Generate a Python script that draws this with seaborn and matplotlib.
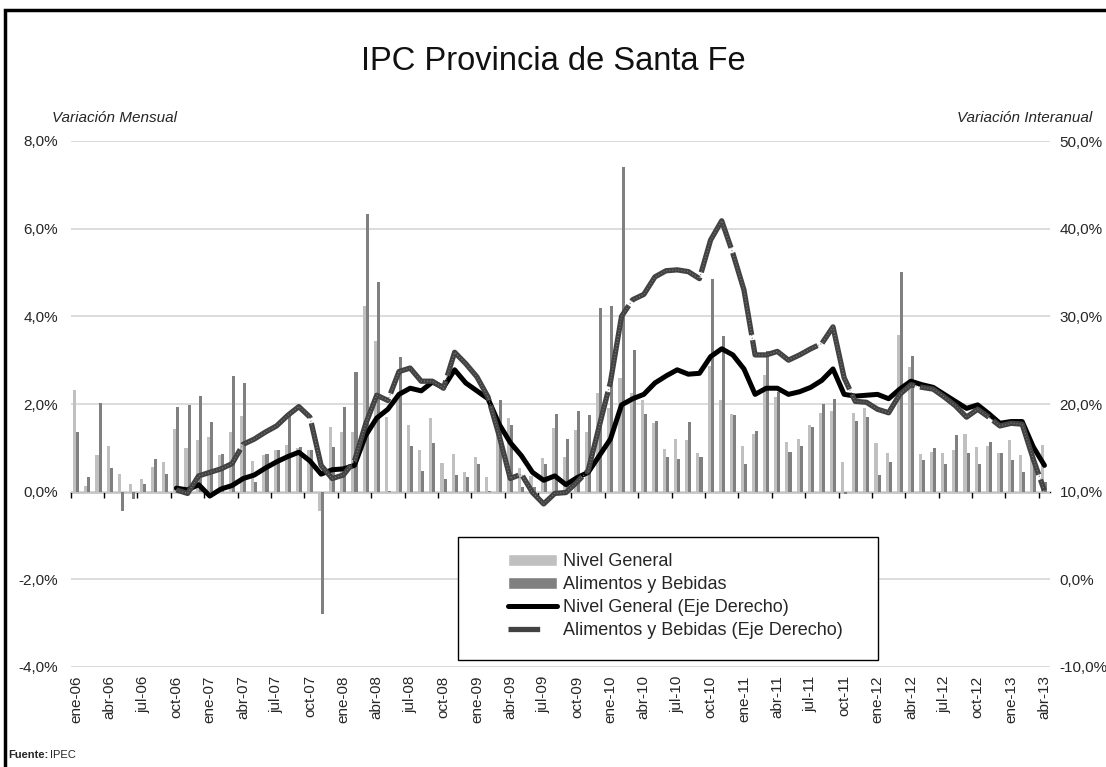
import numpy as np
import pandas as pd
import seaborn as sns
import matplotlib.pyplot as plt
from matplotlib.ticker import FuncFormatter
from matplotlib.patches import Patch, Rectangle
from matplotlib.lines import Line2D

# variacion mensual (%), ene-06 .. abr-13
nivel_general = [
    2.33, 0.14, 0.84, 1.05, 0.41, 0.18, 0.30, 0.57, 0.68, 1.44, 1.00, 1.19,
    1.25, 0.84, 1.37, 1.73, 0.71, 0.84, 0.96, 1.07, 1.00, 0.96, -0.43, 1.48,
    1.35, 1.35, 4.24, 3.44, 1.71, 2.20, 1.51, 0.96, 1.69, 0.66, 0.87, 0.46,
    0.78, 0.33, 1.60, 1.67, 0.55, 0.35, 0.76, 1.46, 0.80, 1.41, 1.37, 2.24,
    1.90, 2.60, 2.26, 2.10, 1.57, 0.98, 1.21, 1.19, 0.89, 2.87, 2.08, 1.78,
    1.05, 1.32, 2.67, 2.17, 1.14, 1.21, 1.53, 1.80, 1.85, 0.68, 1.80, 1.92,
    1.12, 0.89, 3.58, 2.85, 0.87, 0.91, 0.89, 0.94, 1.32, 1.03, 1.05, 0.89,
    1.19, 0.84, 1.10, 1.06]
alimentos = [
    1.35, 0.34, 2.03, 0.55, -0.45, -0.17, 0.18, 0.75, 0.41, 1.94, 1.98, 2.19,
    1.60, 0.87, 2.65, 2.49, 0.21, 0.85, 0.95, 1.73, 1.03, 0.94, -2.78, 1.03,
    1.94, 2.74, 6.34, 4.79, 0.02, 3.08, 1.05, 0.48, 1.10, 0.28, 0.37, 0.34,
    0.64, 0.02, 2.08, 1.51, 0.10, 0.11, 0.62, 1.78, 1.21, 1.83, 1.76, 4.20,
    4.24, 7.41, 3.24, 1.78, 1.62, 0.80, 0.75, 1.60, 0.78, 4.86, 3.56, 1.76,
    0.64, 1.39, 3.22, 2.28, 0.91, 1.05, 1.48, 2.01, 2.12, -0.05, 1.62, 1.71,
    0.37, 0.68, 5.02, 3.10, 0.73, 1.00, 0.62, 1.30, 0.89, 0.62, 1.14, 0.89,
    0.73, 0.46, 0.70, 0.22]

# variacion interanual (%), desde oct-06
inicio_interanual = 9
ng_interanual = [
    10.4, 10.2, 10.8,
    9.5, 10.3, 10.7, 11.5, 11.9, 12.7, 13.4, 14.0, 14.5, 13.5, 12.0, 12.5,
    12.6, 13.0, 16.4, 18.4, 19.4, 21.1, 21.8, 21.5, 22.5, 21.9, 23.9, 22.4,
    21.5, 20.6, 17.7, 15.6, 14.1, 12.2, 11.3, 11.8, 10.8, 11.6, 12.2, 14.1,
    16.0, 19.9, 20.6, 21.1, 22.4, 23.2, 23.9, 23.4, 23.5, 25.4, 26.3, 25.6,
    24.0, 21.1, 21.8, 21.8, 21.1, 21.4, 21.9, 22.7, 24.0, 21.1, 20.9, 21.0,
    21.1, 20.6, 21.7, 22.6, 22.2, 21.9, 21.1, 20.3, 19.5, 19.9, 18.9, 17.8,
    18.0, 18.0, 15.1, 13.0]
al_interanual = [
    10.2, 9.8, 11.8,
    12.2, 12.6, 13.2, 15.4, 16.0, 16.8, 17.5, 18.7, 19.7, 18.5, 13.0, 11.5,
    11.9, 13.5, 17.7, 21.0, 20.4, 23.7, 24.1, 22.6, 22.6, 21.8, 25.9, 24.6,
    23.1, 20.8, 16.4, 11.5, 12.0, 9.9, 8.6, 9.8, 9.9, 11.1, 12.4, 17.5,
    22.5, 30.0, 31.9, 32.5, 34.5, 35.2, 35.3, 35.1, 34.3, 38.7, 40.9, 37.2,
    33.0, 25.6, 25.6, 26.0, 25.0, 25.6, 26.3, 26.9, 28.8, 23.0, 20.3, 20.2,
    19.4, 19.0, 21.1, 22.2, 21.9, 21.7, 20.8, 19.8, 18.5, 19.4, 18.5, 17.5,
    17.8, 17.7, 13.7, 10.1]

etiquetas = ['ene-06', 'abr-06', 'jul-06', 'oct-06', 'ene-07', 'abr-07', 'jul-07', 'oct-07',
             'ene-08', 'abr-08', 'jul-08', 'oct-08', 'ene-09', 'abr-09', 'jul-09', 'oct-09',
             'ene-10', 'abr-10', 'jul-10', 'oct-10', 'ene-11', 'abr-11', 'jul-11', 'oct-11',
             'ene-12', 'abr-12', 'jul-12', 'oct-12', 'ene-13', 'abr-13']

sns.set_style('white')
plt.rcParams['font.family'] = ['Liberation Sans', 'DejaVu Sans']

n = len(nivel_general)
barras = pd.DataFrame({'mes': range(n), 'Nivel General': nivel_general,
                       'Alimentos y Bebidas': alimentos})
barras = barras.melt(id_vars='mes', var_name='serie', value_name='valor')
meses_ia = np.arange(inicio_interanual, n)

fig = plt.figure(figsize=(11.06, 7.67), dpi=100)
ax = fig.add_axes([70.7 / 1106, 100 / 767, 979.3 / 1106, 526 / 767])

sns.barplot(data=barras, x='mes', y='valor', hue='serie',
            hue_order=['Nivel General', 'Alimentos y Bebidas'],
            palette=['#c0c0c0', '#808080'], width=0.55, gap=0, saturation=1,
            linewidth=0, errorbar=None, legend=False, ax=ax)

ax2 = ax.twinx()
gris_linea = '#424242'
guiones = (0, (16, 1.0))
sns.lineplot(x=meses_ia, y=ng_interanual, color='black', lw=3.6, ax=ax2)
sns.lineplot(x=meses_ia, y=al_interanual, color=gris_linea, lw=3.8,
             linestyle=guiones, ax=ax2)
# textura punteada de la linea de alimentos
sns.lineplot(x=meses_ia, y=al_interanual, color='#7a7a7a', lw=0.9,
             linestyle=(0, (0.8, 1.6)), ax=ax2)

pct = FuncFormatter(lambda v, p: f'{v:.1f}%'.replace('.', ','))
ax.set_ylim(-4, 8)
ax.set_yticks(np.arange(-4, 8.1, 2))
ax.yaxis.set_major_formatter(pct)
ax2.set_ylim(-10, 50)
ax2.set_yticks(np.arange(-10, 50.1, 10))
ax2.yaxis.set_major_formatter(pct)
ax.set_xlim(-0.5, n - 0.5)

ax.set_xticks(np.arange(0, n, 3))
ax.set_xticklabels(etiquetas, rotation=90)
ax.set_xlabel('')
ax.set_ylabel('')
ax2.set_ylabel('')
ax.tick_params(axis='x', length=0, pad=6, labelsize=11)
ax.tick_params(axis='y', length=0, pad=9, labelsize=11)
ax2.tick_params(axis='y', length=0, pad=7, labelsize=11)

ax.set_axisbelow(True)
ax.yaxis.grid(True, color='#d9d9d9', lw=1.3)
ax.xaxis.grid(False)
for a in (ax, ax2):
    for s in a.spines.values():
        s.set_visible(False)

# eje de categorias en 0 con marcas cada trimestre
cero = ax.secondary_xaxis(1 / 3)
cero.set_xticks(np.arange(-0.5, n, 3))
cero.tick_params(axis='x', length=4, width=1, color='black',
                 labelbottom=False, labeltop=False)
cero.spines['bottom'].set_color('black')
cero.spines['bottom'].set_linewidth(1)

# leyenda
caja = Rectangle((458 / 1106, 1 - 660 / 767), 420 / 1106, 123 / 767,
                 transform=fig.transFigure, facecolor='white',
                 edgecolor='black', lw=1, zorder=5, clip_on=False)
ax2.add_patch(caja)
manejadores = [Patch(facecolor='#c0c0c0'), Patch(facecolor='#808080'),
               Line2D([], [], color='black', lw=3.6),
               Line2D([], [], color=gris_linea, lw=3.8, linestyle=(0, (6, 20)))]
nombres = ['Nivel General', 'Alimentos y Bebidas',
           'Nivel General (Eje Derecho)', 'Alimentos y Bebidas (Eje Derecho)']
leg = ax2.legend(manejadores, nombres, loc='upper left',
                 bbox_to_anchor=(494 / 1106, 1 - 539 / 767),
                 bbox_transform=fig.transFigure, frameon=False,
                 fontsize=13, handlelength=2.7, handleheight=0.6,
                 handletextpad=0.3, labelspacing=0.32, borderpad=0.3)
leg.set_zorder(6)

# textos
fig.text(0.5, 1 - 62 / 767, 'IPC Provincia de Santa Fe', ha='center', va='center',
         fontsize=23.5, fontstretch='condensed', color='#111111',
         family=['Liberation Sans Narrow', 'Liberation Sans', 'DejaVu Sans'])
fig.text(52 / 1106, 1 - 118 / 767, 'Variación Mensual', style='italic',
         fontsize=11, va='center')
fig.text(1092 / 1106, 1 - 118 / 767, 'Variación Interanual', style='italic',
         fontsize=11, va='center', ha='right')
fig.text(8 / 1106, 1 - 755 / 767, 'Fuente:', fontsize=8, weight='bold', va='center')
fig.text(50 / 1106, 1 - 755 / 767, 'IPEC', fontsize=8, va='center')

marco = Rectangle((5 / 1106, -0.05), 1.2, 1 - 10 / 767 + 0.05,
                  transform=fig.transFigure, fill=False, edgecolor='black', lw=2.5)
fig.patches.append(marco)

fig.savefig('out.png', dpi=100)
